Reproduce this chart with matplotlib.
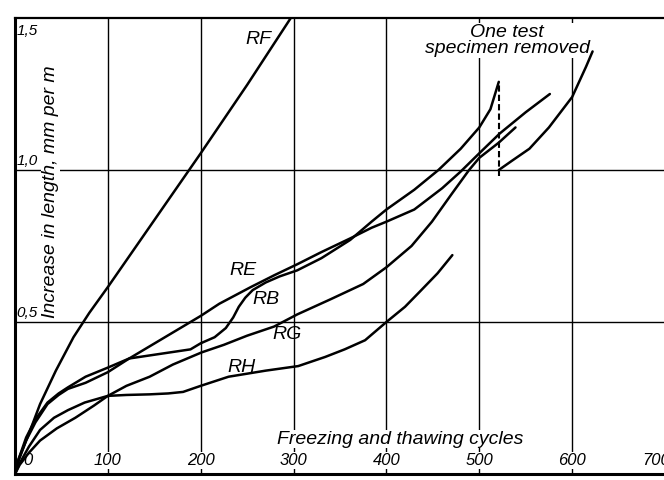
import matplotlib
matplotlib.use("Agg")
import matplotlib.pyplot as plt

# Freezing/thawing test: increase in length (mm per m) vs. number of cycles
FONT = ["Liberation Sans", "DejaVu Sans"]

rf_x = [0, 4, 14, 27, 44, 63, 80, 100, 150, 200, 250, 297]
rf_y = [0, 0.05, 0.125, 0.23, 0.34, 0.45, 0.53, 0.615, 0.835, 1.055, 1.28, 1.5]

rb_x = [0, 4, 12, 22, 35, 47, 57, 76, 100, 123, 156, 189, 200, 215, 227, 235, 241,
        248, 256, 270, 285, 304, 330, 361, 384, 400, 430, 456, 480, 500, 512, 521]
rb_y = [0, 0.05, 0.12, 0.18, 0.235, 0.265, 0.285, 0.32, 0.35, 0.38, 0.395, 0.41, 0.43,
        0.45, 0.48, 0.515, 0.55, 0.58, 0.605, 0.63, 0.65, 0.67, 0.71, 0.77, 0.83, 0.87,
        0.935, 1.0, 1.07, 1.14, 1.2, 1.29]

# RB after one specimen was removed
rb2_x = [521, 535, 554, 575, 600, 615, 622]
rb2_y = [1.0, 1.03, 1.07, 1.14, 1.24, 1.34, 1.39]
removed_x = 521
removed_y = [0.98, 1.29]

re_x = [0, 4, 12, 22, 35, 47, 57, 76, 100, 123, 145, 178, 200, 220, 254, 280, 304,
        330, 361, 384, 400, 430, 460, 480, 500, 522, 550, 576]
re_y = [0, 0.045, 0.11, 0.17, 0.23, 0.26, 0.28, 0.30, 0.335, 0.38, 0.42, 0.48, 0.52,
        0.56, 0.615, 0.655, 0.69, 0.73, 0.775, 0.81, 0.83, 0.87, 0.94, 0.995, 1.055,
        1.12, 1.19, 1.25]

rg_x = [0, 5, 15, 27, 45, 65, 85, 100, 120, 145, 170, 201, 225, 250, 279, 304, 340,
        375, 400, 427, 449, 470, 489, 500, 521, 539]
rg_y = [0, 0.03, 0.07, 0.11, 0.15, 0.185, 0.225, 0.257, 0.29, 0.32, 0.36, 0.40, 0.425,
        0.455, 0.485, 0.525, 0.575, 0.625, 0.68, 0.75, 0.83, 0.92, 1.0, 1.04, 1.09, 1.14]

rh_x = [0, 5, 15, 27, 42, 57, 75, 100, 120, 145, 165, 181, 200, 215, 230, 250, 270,
        305, 334, 355, 377, 400, 420, 436, 455, 471]
rh_y = [0, 0.035, 0.09, 0.145, 0.185, 0.21, 0.235, 0.257, 0.26, 0.262, 0.265, 0.27,
        0.29, 0.305, 0.32, 0.33, 0.34, 0.355, 0.385, 0.41, 0.44, 0.50, 0.55, 0.60,
        0.66, 0.72]

x_ticks = [100, 200, 300, 400, 500, 600, 700]
y_ticks = [0.5, 1.0, 1.5]
y_tick_labels = ["0,5", "1,0", "1,5"]

# curve name labels: (text, x, y)
curve_labels = [("RF", 262, 1.43), ("RE", 245, 0.67), ("RB", 270, 0.575),
                ("RG", 293, 0.46), ("RH", 244, 0.35)]

fig = plt.figure(figsize=(6.64, 4.8), dpi=100)
ax = fig.add_axes([15 / 664, 6 / 480, 650 / 664, 456 / 480])
ax.set_xlim(0, 700)
ax.set_ylim(0, 1.5)
ax.set_xticks([])
ax.set_yticks([])

for v in x_ticks[:-1]:
    ax.axvline(v, color="black", lw=1.0, zorder=1)
for v in y_ticks[:-1]:
    ax.axhline(v, color="black", lw=1.0, zorder=1)

ax.spines["left"].set_linewidth(2.2)
ax.spines["bottom"].set_linewidth(2.2)
ax.spines["top"].set_linewidth(1.6)
ax.spines["right"].set_linewidth(1.2)

line_kw = dict(color="black", lw=1.8, zorder=3, solid_joinstyle="round",
               solid_capstyle="round")
ax.plot(rf_x, rf_y, **line_kw)
ax.plot(rb_x, rb_y, **line_kw)
ax.plot(rb2_x, rb2_y, **line_kw)
ax.plot(re_x, re_y, **line_kw)
ax.plot(rg_x, rg_y, **line_kw)
ax.plot(rh_x, rh_y, **line_kw)
ax.plot([removed_x, removed_x], removed_y, color="black", lw=1.5,
        linestyle=(0, (3, 1.5)), zorder=3)

white = dict(facecolor="white", edgecolor="none", pad=0.6)
txt_kw = dict(family=FONT, style="italic", color="black")

ax.text(14, 0.045, "0", ha="center", va="center", fontsize=12, zorder=4, **txt_kw)
for v in x_ticks:
    ax.text(v if v < 700 else 691, 0.045, str(v), ha="center", va="center",
            fontsize=12, bbox=white, zorder=4, **txt_kw)
for v, lab in zip(y_ticks, y_tick_labels):
    ax.text(1.5, v - 0.02 if v == 1.5 else v + 0.008, lab, ha="left",
            va="top" if v == 1.5 else "bottom", fontsize=11, zorder=4, **txt_kw)

for lab, x, y in curve_labels:
    ax.text(x, y, lab, ha="center", va="center", fontsize=14, zorder=4, **txt_kw)

ax.text(38, 0.93, "Increase in length, mm per m", rotation=90, ha="center",
        va="center", fontsize=14, bbox=white, zorder=2, **txt_kw)
ax.text(415, 0.115, "Freezing and thawing cycles", ha="center", va="center",
        fontsize=14, bbox=white, zorder=2, **txt_kw)
ax.text(530, 1.425, "One test\nspecimen removed", ha="center", va="center",
        fontsize=14, linespacing=0.95, bbox=white, zorder=2, **txt_kw)

fig.savefig("out.png", dpi=100)
